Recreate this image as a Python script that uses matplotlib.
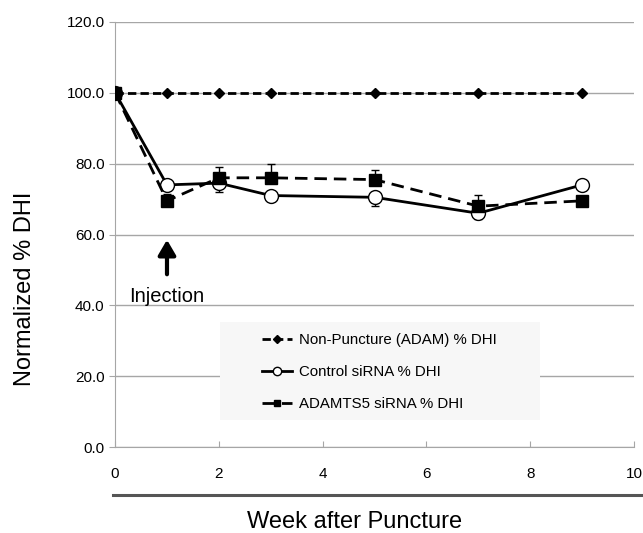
import matplotlib
matplotlib.use("Agg")
import matplotlib.pyplot as plt
from matplotlib.lines import Line2D
from matplotlib.patches import Rectangle

plt.rcParams['font.family'] = ['Liberation Sans', 'DejaVu Sans']

# weeks after puncture
weeks = [0, 1, 2, 3, 5, 7, 9]

# normalized % DHI per group
non_puncture = [100, 100, 100, 100, 100, 100, 100]
control = [100, 74.0, 74.5, 71.0, 70.5, 66.0, 74.0]
control_err = [0, 1.0, 2.5, 1.2, 2.5, 1.5, 0]
adamts5 = [100, 69.5, 76.0, 76.0, 75.5, 68.0, 69.5]
adamts5_err = [0, 2.0, 3.0, 4.0, 2.8, 3.2, 0]

series_names = ["Non-Puncture (ADAM) % DHI", "Control siRNA % DHI", "ADAMTS5 siRNA % DHI"]
yticks = [0, 20, 40, 60, 80, 100, 120]
xticks = [0, 2, 4, 6, 8, 10]

fig = plt.figure(figsize=(6.43, 5.33), dpi=100)
ax = fig.add_axes([0.179, 0.161, 0.807, 0.798])

grey = "#a6a6a6"
for y in yticks:
    ax.axhline(y, color=grey, lw=1.0, zorder=0)

# error bars (one sided, like the original)
ax.errorbar(weeks, control, yerr=[control_err, [0] * 7], fmt="none",
            ecolor="black", elinewidth=1, capsize=3, zorder=2)
ax.errorbar(weeks, adamts5, yerr=[[0] * 7, adamts5_err], fmt="none",
            ecolor="black", elinewidth=1, capsize=3, zorder=2)

np_style = dict(color="black", lw=2, ls=(0, (3, 1.5)), marker="D", mfc="black")
ct_style = dict(color="black", lw=2, ls="-", marker="o", mfc="white", mec="black", mew=1)
ad_style = dict(color="black", lw=2, ls=(0, (4.5, 2.5)), marker="s", mfc="black")

ax.plot(weeks, non_puncture, ms=5, zorder=3, **np_style)
ax.plot(weeks, control, ms=10, zorder=4, **ct_style)
ax.plot(weeks, adamts5, ms=8, zorder=5, **ad_style)

ax.set_xlim(0, 10)
ax.set_ylim(0, 120)
ax.set_xticks(xticks)
ax.set_yticks(yticks)
ax.set_yticklabels([f"{v:.1f}" for v in yticks])
ax.tick_params(axis="x", direction="in", length=4, color=grey, labelsize=11, pad=14)
ax.tick_params(axis="y", length=4, color=grey, labelsize=11, direction="out")

for side in ["top", "right"]:
    ax.spines[side].set_visible(False)
ax.spines["left"].set_color(grey)
ax.spines["bottom"].set_color(grey)

# injection marker
ax.annotate("", xy=(1, 59.3), xytext=(1, 48.0),
            arrowprops=dict(arrowstyle="-|>,head_length=0.6,head_width=0.35",
                            color="black", lw=3, mutation_scale=15))
ax.text(1, 42.5, "Injection", ha="center", va="center", fontsize=14.5)

# legend: light box, small markers
ax.add_patch(Rectangle((0.202, 0.0635), 0.617, 0.231, transform=ax.transAxes,
                       facecolor="#f7f7f7", edgecolor="none", zorder=1))
handles = [
    Line2D([], [], ms=4, **np_style),
    Line2D([], [], ms=6, **ct_style),
    Line2D([], [], ms=5, **ad_style),
]
ax.legend(handles, series_names, loc="center left", bbox_to_anchor=(0.283, 0.177),
          frameon=False, fontsize=10.8, handlelength=2.0, handletextpad=0.5,
          labelspacing=1.2, borderpad=0, borderaxespad=0)

# y label, dark rule under the tick labels, then the x label
fig.text(0.039, 0.458, "Normalized % DHI", rotation=90, ha="center", va="center",
         fontsize=17)
fig.add_artist(Line2D([0.176, 1.0], [0.071, 0.071], color="#555555", lw=2.2))
fig.text(0.551, 0.021, "Week after Puncture", ha="center", va="center",
         fontsize=17)

fig.savefig("out.png", dpi=100)
